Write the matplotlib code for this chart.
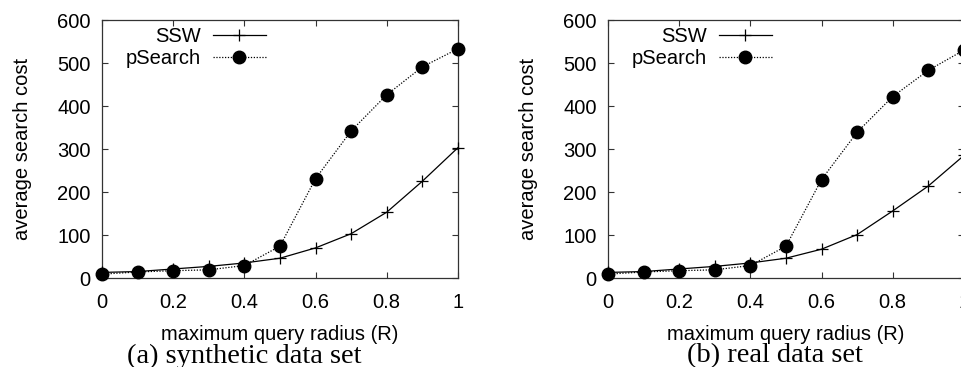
import matplotlib
matplotlib.use('Agg')
import matplotlib.pyplot as plt

plt.rcParams['font.family'] = 'Liberation Sans'
plt.rcParams['font.size'] = 14.5

radius = [0, 0.1, 0.2, 0.3, 0.4, 0.5, 0.6, 0.7, 0.8, 0.9, 1.0]

# (a) synthetic data set
ssw_syn = [13, 15, 21, 27, 35, 46, 70, 103, 153, 225, 303]
psearch_syn = [9, 14, 17, 19, 29, 74, 231, 342, 426, 491, 533]

# (b) real data set
ssw_real = [13, 15, 21, 27, 35, 46, 67, 101, 156, 214, 285]
psearch_real = [9, 14, 17, 19, 29, 74, 229, 339, 422, 483, 530]

panels = [
    ('(a) synthetic data set', ssw_syn, psearch_syn),
    ('(b) real data set', ssw_real, psearch_real),
]

fig = plt.figure(figsize=(9.62, 3.67), dpi=100)
lefts = [0.106, 0.632]
caption_x = [0.254, 0.806]

for i, (caption, ssw, ps) in enumerate(panels):
    ax = fig.add_axes([lefts[i], 0.2425, 0.370, 0.703])
    ax.plot(radius, ssw, color='black', lw=0.9, marker='+', ms=8,
            mew=0.9, label='SSW', clip_on=False, zorder=3)
    ax.plot(radius, ps, color='black', lw=0.9, ls=(0, (1, 1.3)), marker='o',
            ms=9, label='pSearch', clip_on=False, zorder=3)
    ax.set_xlim(0, 1)
    ax.set_ylim(0, 600)
    ax.set_xticks([0, 0.2, 0.4, 0.6, 0.8, 1])
    ax.set_xticklabels(['0', '0.2', '0.4', '0.6', '0.8', '1'])
    ax.set_yticks(range(0, 601, 100))
    ax.tick_params(direction='in', length=4.5, width=0.8, top=True, right=True,
                   color='#333333')
    ax.tick_params(axis='x', pad=11)
    ax.tick_params(axis='y', pad=8)
    for s in ax.spines.values():
        s.set_color('#333333')
        s.set_linewidth(0.9)
    ax.set_xlabel('maximum query radius (R)', labelpad=9)
    ax.set_ylabel('average search cost', labelpad=18)
    ax.legend(loc='upper right', bbox_to_anchor=(0.505, 1.035), frameon=False,
              markerfirst=False, handlelength=2.6, handletextpad=0.6,
              labelspacing=0.15, borderpad=0.3)
    fig.text(caption_x[i], 0.012, caption, ha='center', va='baseline',
             family='Liberation Serif', fontsize=20.5)

fig.savefig('out.png', dpi=100)
